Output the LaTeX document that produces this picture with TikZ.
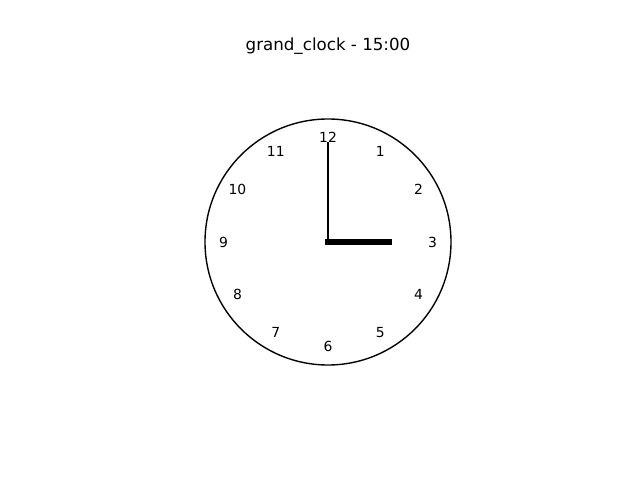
\documentclass[tikz,border=0pt]{standalone}
\usepackage{fontspec}
\setmainfont{DejaVu Sans}
\usetikzlibrary{calc}
\begin{document}
\begin{tikzpicture}[x=0.01in,y=-0.01in,
  face/.style={draw=black,line width=1bp,fill=white},
  num/.style={inner sep=0pt,font=\fontsize{10bp}{12bp}\selectfont},
  hourhand/.style={line width=4bp,line cap=rect},
  minutehand/.style={line width=2bp,line cap=rect},
  ttl/.style={inner sep=0pt,anchor=base,font=\fontsize{12bp}{14bp}\selectfont}]
\useasboundingbox (0,0) rectangle (640,480);
\coordinate (c) at (328,242);
\node[ttl] (title) at (328,51) {grand\_clock - 15:00};
\draw[face] (c) circle (123);
\foreach \n in {1,...,12}{
  \node[num] (n\n) at ($(c)+({90-30*\n}:104.5 and -104.5)$) {\n};
}
\coordinate (hend) at ($(c)+(61.5,0)$);
\coordinate (mend) at ($(c)+(0,-98.4)$);
\draw[minutehand] (c) -- (mend);
\draw[hourhand] (c) -- (hend);
\end{tikzpicture}
\end{document}
